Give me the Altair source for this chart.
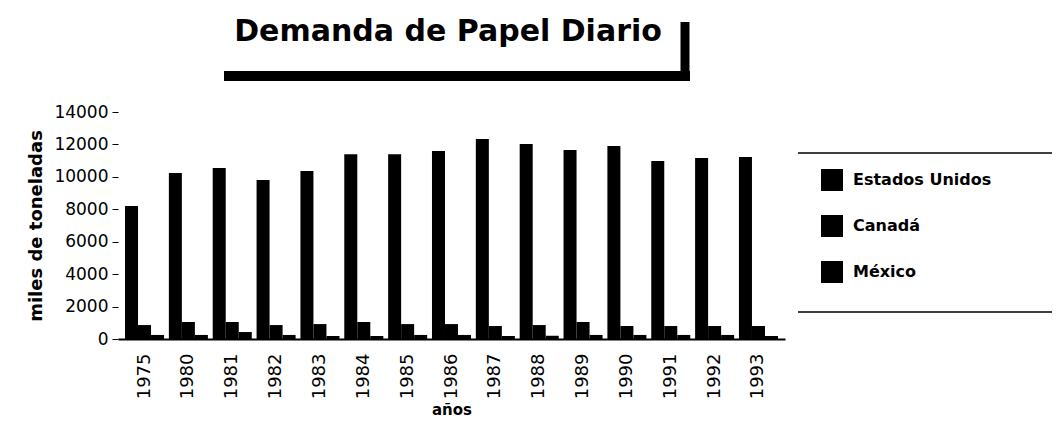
import altair as alt
import pandas as pd

years = ["1975", "1980", "1981", "1982", "1983", "1984", "1985", "1986",
         "1987", "1988", "1989", "1990", "1991", "1992", "1993"]
estados_unidos = [8200, 10240, 10550, 9800, 10360, 11400, 11400, 11600,
                  12340, 12030, 11660, 11900, 10980, 11170, 11230]
canada = [860, 1050, 1050, 860, 920, 1050, 920, 920, 800, 860, 1050, 800, 800, 800, 800]
mexico = [250, 250, 430, 250, 185, 185, 250, 250, 185, 200, 250, 250, 250, 250, 185]
series = ["Estados Unidos", "Canadá", "México"]
y_ticks = [0, 2000, 4000, 6000, 8000, 10000, 12000, 14000]
title_text = ["Demanda de Papel Diario"]

rows = []
for i, yr in enumerate(years):
    for name, vals in zip(series, [estados_unidos, canada, mexico]):
        rows.append({"año": yr, "país": name, "valor": vals[i]})
df = pd.DataFrame(rows)

W, H = 667, 227
FONT = "DejaVu Sans"

bars = alt.Chart(df).mark_bar(strokeWidth=0).encode(
    x=alt.X("año:N", sort=years,
            scale=alt.Scale(paddingInner=0.11, paddingOuter=0.16),
            axis=alt.Axis(title="años", labelAngle=-90, labelFont=FONT,
                          labelFontSize=18, labelColor="black", labelPadding=14,
                          ticks=False, domainColor="black", domainWidth=2,
                          titleFont=FONT, titleFontSize=15, titleFontWeight="bold",
                          titleColor="black", titlePadding=4)),
    xOffset=alt.XOffset("país:N", sort=series),
    y=alt.Y("valor:Q",
            scale=alt.Scale(domain=[0, 14000], nice=False),
            axis=alt.Axis(title="miles de toneladas", values=y_ticks, format="d",
                          grid=False, domain=False, tickColor="black", tickSize=6,
                          labelFont=FONT, labelFontSize=17, labelColor="black",
                          labelPadding=4, titleFont=FONT, titleFontSize=18,
                          titleFontWeight="bold", titleColor="black", titlePadding=8)),
    color=alt.Color("país:N", sort=series,
                    scale=alt.Scale(domain=series, range=["black", "black", "black"]),
                    legend=alt.Legend(title=None, orient="none", legendX=703, legendY=57,
                                      symbolType="square", symbolSize=484,
                                      symbolStrokeWidth=0, labelFont=FONT,
                                      labelFontSize=16, labelFontWeight="bold",
                                      labelColor="black", labelOffset=10,
                                      rowPadding=24)),
)

one = pd.DataFrame({"k": [0]})
title_df = pd.DataFrame({"t": title_text})
title = alt.Chart(title_df).mark_text(font=FONT, fontSize=30, fontWeight="bold",
                                      color="black", align="center",
                                      baseline="middle").encode(
    text="t:N", x=alt.value(330), y=alt.value(-80))
deco_h = alt.Chart(one).mark_rule(color="black", strokeWidth=10).encode(
    x=alt.value(106), x2=alt.value(572), y=alt.value(-36))
deco_v = alt.Chart(one).mark_rule(color="black", strokeWidth=9).encode(
    x=alt.value(567), y=alt.value(-90), y2=alt.value(-32))
leg_top = alt.Chart(one).mark_rule(color="black", strokeWidth=1.5).encode(
    x=alt.value(680), x2=alt.value(934), y=alt.value(41))
leg_bot = alt.Chart(one).mark_rule(color="black", strokeWidth=1.5).encode(
    x=alt.value(680), x2=alt.value(934), y=alt.value(200))

chart = alt.layer(bars, title, deco_h, deco_v, leg_top, leg_bot).properties(
    width=W, height=H,
    background="white",
    autosize=alt.AutoSizeParams(type="none"),
    padding={"left": 110, "top": 104, "right": 269, "bottom": 79},
).configure_view(stroke="transparent", strokeWidth=0)

chart.save("out.html", embed_options={"renderer": "svg", "actions": False})
